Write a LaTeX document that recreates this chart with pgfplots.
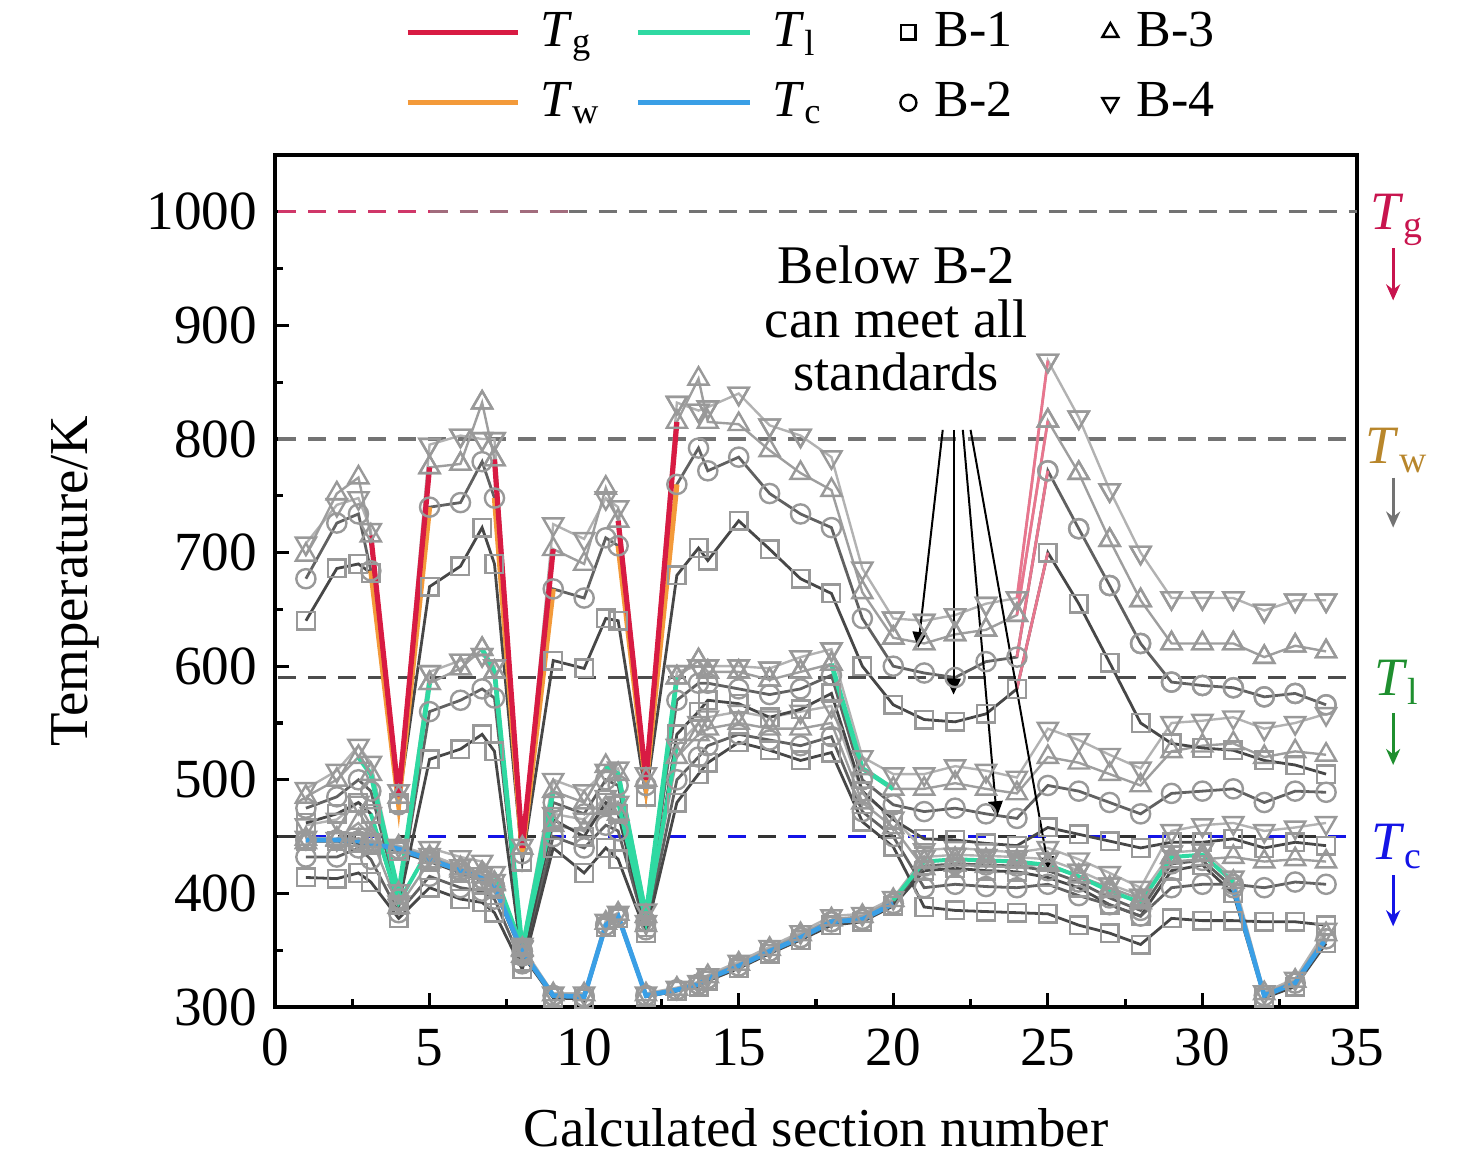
\documentclass[border=0pt]{standalone}
\usepackage{fontspec}
\setmainfont{Liberation Serif}
\usepackage{pgfplots}
\usepackage{pgfplotstable}
\pgfplotsset{compat=1.18}
\usetikzlibrary{arrows.meta}
\definecolor{cTg}{HTML}{D81B43}
\definecolor{cTw}{HTML}{F39A3A}
\definecolor{cTl}{HTML}{2FD9A2}
\definecolor{cTc}{HTML}{3A9FE6}
\definecolor{lTg}{HTML}{C8144E}
\definecolor{lTw}{HTML}{B8862B}
\definecolor{lTl}{HTML}{1F8F2F}
\definecolor{lTc}{HTML}{1414E6}

\pgfplotstableread{
x b1 b2 b3 b4
1 640 677 698 708
2 686 726 752 742
2.7 690 734 766 748
3.1 682 684 715 720
4 480 478 485 490
5 670 740 775 795
6 688 744 778 803
6.7 722 780 832 800
7.1 690 748 782 800
8 428 435 440 442
9 605 668 703 725
10 598 660 690 712
10.7 642 713 757 748
11.1 640 706 728 740
12 485 495 500 505
13 680 760 815 832
13.7 704 792 853 825
14 693 772 815 828
15 728 784 813 840
16 703 752 790 812
17 677 734 770 803
18 664 722 755 784
19 600 642 665 686
20 566 600 625 642
21 553 594 620 640
22 551 590 628 645
23 558 604 632 655
24 580 608 645 660
25 700 772 816 869
26 655 721 770 819
27 603 671 711 755
28 550 620 658 700
29 532 586 620 660
30 528 583 620 660
31 526 581 620 660
32 517 573 608 649
33 513 576 618 658
34 505 566 613 658
}\Gone

\pgfplotstableread{
x b1 b2 b3 b4
1 462 475 485 492
2 470 485 500 508
2.7 480 500 520 530
3.1 470 490 505 515
4 390 395 400 402
5 518 560 585 595
6 527 570 598 605
6.7 540 580 615 610
7.1 525 572 595 600
8 340 345 350 355
9 465 480 490 500
10 450 470 480 490
10.7 480 500 512 508
11.1 470 495 505 510
12 370 375 380 385
13 540 570 590 595
13.7 560 585 605 600
14 570 585 595 600
15 567 580 595 600
16 555 575 588 598
17 562 580 595 608
18 576 592 602 615
19 490 500 510 520
20 465 478 492 505
21 448 472 492 505
22 447 475 497 512
23 444 470 492 508
24 442 466 488 502
25 458 495 520 545
26 452 490 515 535
27 446 480 505 522
28 440 470 495 510
29 445 488 525 550
30 445 490 530 552
31 448 492 532 555
32 440 480 520 545
33 445 490 525 550
34 442 489 522 558
}\Gtwo

\pgfplotstableread{
x b1 b2 b3 b4
1 414 432 445 460
2 413 432 448 465
2.7 418 440 462 480
3.1 410 430 450 470
4 378 383 388 392
5 405 415 428 440
6 395 405 420 432
6.7 392 402 418 428
7.1 383 395 408 418
8 333 338 345 352
9 440 450 460 470
10 418 440 455 465
10.7 440 460 475 485
11.1 430 455 470 480
12 365 368 372 375
13 480 500 520 530
13.7 505 520 540 550
14 515 530 545 555
15 533 540 550 560
16 526 535 545 555
17 517 530 545 560
18 524 538 550 565
19 463 472 480 488
20 441 450 458 466
21 388 405 422 438
22 385 408 425 440
23 384 406 424 438
24 383 405 423 436
25 382 408 426 440
26 372 398 415 430
27 365 390 405 418
28 355 380 395 405
29 378 405 428 455
30 376 408 430 460
31 376 408 432 462
32 375 405 428 455
33 375 410 430 458
34 372 408 428 462
}\Gthree

\pgfplotstableread{
x b1 b2 b3 b4
1 446 447 448 449
2 446 447 447 448
2.7 444 446 447 448
3.1 443 444 446 447
4 437 439 441 442
5 428 430 432 434
6 418 420 422 424
6.7 411 413 415 417
7.1 404 406 409 411
8 346 349 351 353
9 308 310 311 312
10 307 309 311 312
10.7 370 372 374 376
11.1 378 380 382 383
12 309 310 311 312
13 314 315 316 317
13.7 318 320 321 322
14 323 325 327 328
15 334 336 338 340
16 347 349 351 353
17 359 361 364 366
18 372 375 377 380
19 375 377 380 382
20 389 391 394 396
21 420 424 428 432
22 422 426 430 434
23 420 425 429 433
24 419 424 428 432
25 414 420 425 430
26 405 410 415 420
27 390 396 402 408
28 380 385 392 398
29 420 426 432 436
30 425 429 434 438
31 400 405 410 414
32 308 310 312 313
33 318 321 323 325
34 356 360 364 368
}\Tc

\pgfplotsset{
 s1/.style={forget plot, line width=0.7pt, color=black!72, mark=square, mark size=2.2pt, mark options={solid, draw=black!40, fill=white, line width=0.6pt}},
 s2/.style={forget plot, line width=0.7pt, color=black!62, mark=o, mark size=2.4pt, mark options={solid, draw=black!40, fill=white, line width=0.6pt}},
 s3/.style={forget plot, line width=0.6pt, color=black!38, mark=triangle, mark size=2.9pt, mark options={solid, draw=black!40, fill=white, line width=0.6pt}},
 s4/.style={forget plot, line width=0.6pt, color=black!30, mark=triangle, mark size=2.9pt, mark options={solid, rotate=180, draw=black!40, fill=white, line width=0.6pt}},
 hl/.style={only marks, every mark/.append style={fill=#1}},
}

\begin{document}
\begin{tikzpicture}
\begin{axis}[
  scale only axis, width=270.5pt, height=213pt,
  xmin=0, xmax=35, ymin=300, ymax=1050,
  xtick={0,5,...,35}, ytick={300,400,...,1000},
  minor x tick num=1, minor y tick num=1,
  tick align=inside, xtick pos=bottom, ytick pos=left,
  major tick length=3.5pt, minor tick length=2pt,
  every tick/.style={black, line width=0.8pt},
  axis line style={line width=0.9pt},
  /pgf/number format/assume math mode=true,
  /pgf/number format/1000 sep={},
  tick label style={font=\fontsize{13.8}{15}\selectfont},
  xticklabel style={yshift=-2pt},
  yticklabel style={xshift=-1pt},
  xlabel={Calculated section number},
  ylabel={Temperature/K},
  label style={font=\fontsize{13.7}{16}\selectfont},
  xlabel style={at={(axis description cs:0.5,-0.142)}, anchor=center},
  ylabel style={at={(axis description cs:-0.185,0.5)}, anchor=center},
  clip=false,
  unbounded coords=jump,
  legend columns=4,
  legend style={at={(axis description cs:0,1)}, anchor=south west, xshift=32.5pt, yshift=8pt,
    draw=none, fill=none, inner sep=0pt, outer sep=0pt, row sep=7.5pt, column sep=0pt,
    nodes={inner sep=0pt, outer sep=0pt}, font=\fontsize{13}{15}\selectfont},
]
\coordinate (SW) at (rel axis cs:0,0);
\coordinate (NE) at (rel axis cs:1,1);

% legend
\addlegendimage{legend image code/.code={\draw[cTg, line width=1.3pt] (0pt,0pt) -- (27.5pt,0pt);}}
\addlegendentry{\makebox[28.75pt][l]{\hspace{5pt}\textit{T}\textsubscript{g}}}
\addlegendimage{legend image code/.code={\draw[cTl, line width=1.3pt] (0pt,0pt) -- (28pt,0pt);}}
\addlegendentry{\makebox[37pt][l]{\hspace{5pt}\textit{T}\textsubscript{l}}}
\addlegendimage{legend image code/.code={\draw[black, line width=0.6pt, mark=square, mark size=1.8pt] plot coordinates {(0pt,0pt)};}}
\addlegendentry{\makebox[46.5pt][l]{\hspace{4.5pt}B-1}}
\addlegendimage{legend image code/.code={\draw[black, line width=0.6pt, mark=triangle, mark size=2.3pt] plot coordinates {(0pt,0pt)};}}
\addlegendentry{\makebox[30pt][l]{\hspace{4.5pt}B-3}}
\addlegendimage{legend image code/.code={\draw[cTw, line width=1.3pt] (0pt,0pt) -- (27.5pt,0pt);}}
\addlegendentry{\makebox[28.75pt][l]{\hspace{5pt}\textit{T}\textsubscript{w}}}
\addlegendimage{legend image code/.code={\draw[cTc, line width=1.3pt] (0pt,0pt) -- (28pt,0pt);}}
\addlegendentry{\makebox[37pt][l]{\hspace{5pt}\textit{T}\textsubscript{c}}}
\addlegendimage{legend image code/.code={\draw[black, line width=0.6pt, mark=o, mark size=2pt] plot coordinates {(0pt,0pt)};}}
\addlegendentry{\makebox[46.5pt][l]{\hspace{4.5pt}B-2}}
\addlegendimage{legend image code/.code={\draw[black, line width=0.6pt, mark=triangle, mark size=2.3pt, mark options={rotate=180}] plot coordinates {(0pt,0pt)};}}
\addlegendentry{\makebox[30pt][l]{\hspace{4.5pt}B-4}}

% limit lines
\draw[dash pattern=on 4.5pt off 3pt, line width=0.8pt, lTg!85] (axis cs:0.1,1000) -- (axis cs:5,1000);
\draw[dash pattern=on 4.5pt off 3pt, dash phase=0pt, line width=0.8pt, lTg!50!black!60] (axis cs:5,1000) -- (axis cs:9.5,1000);
\draw[dash pattern=on 4.5pt off 3pt, line width=0.8pt, black!55] (axis cs:9.5,1000) -- (axis cs:35,1000);
\draw[dash pattern=on 4.5pt off 3pt, line width=0.8pt, black!55] (axis cs:0.1,800) -- (axis cs:35,800);
\draw[dash pattern=on 4.5pt off 3pt, line width=0.8pt, black!70] (axis cs:0.1,590) -- (axis cs:35,590);
\draw[dash pattern=on 4.5pt off 10.5pt, line width=0.8pt, black!80] (axis cs:0.1,450) -- (axis cs:35,450);
\draw[dash pattern=on 4.5pt off 10.5pt, dash phase=7.5pt, line width=0.8pt, lTc] (axis cs:0.1,450) -- (axis cs:35,450);

% gray case lines
\addplot[s4] table[x=x,y=b4]{\Tc};
\addplot[s3] table[x=x,y=b3]{\Tc};
\addplot[s2] table[x=x,y=b2]{\Tc};
\addplot[s1] table[x=x,y=b1]{\Tc};
\addplot[s4] table[x=x,y=b4]{\Gthree};
\addplot[s3] table[x=x,y=b3]{\Gthree};
\addplot[s2] table[x=x,y=b2]{\Gthree};
\addplot[s1] table[x=x,y=b1]{\Gthree};
\addplot[s4] table[x=x,y=b4]{\Gtwo};
\addplot[s3] table[x=x,y=b3]{\Gtwo};
\addplot[s2] table[x=x,y=b2]{\Gtwo};
\addplot[s1] table[x=x,y=b1]{\Gtwo};
\addplot[s4] table[x=x,y=b4]{\Gone};
\addplot[s3] table[x=x,y=b3]{\Gone};
\addplot[s2] table[x=x,y=b2]{\Gone};
\addplot[s1] table[x=x,y=b1]{\Gone};

% coloured lines
\addplot[forget plot, cTw, line width=1.3pt] coordinates {(3.1,684)(4,478)(5,740) (6,nan) (7.1,748)(8,435)(9,668) (10,nan) (11.1,706)(12,495)(13,760)};
\addplot[forget plot, cTg, line width=1.3pt] coordinates {(3.1,715)(4,485)(5,775) (6,nan) (7.1,782)(8,440)(9,703) (10,nan) (11.1,728)(12,500)(13,815)};
\addplot[forget plot, cTg!60, line width=0.7pt] coordinates {(24,645)(25,816) (24.5,nan) (24,660)(25,869) (24.6,nan) (24,608)(25,772) (24.7,nan) (24,580)(25,700)};
\addplot[forget plot, cTl, line width=1.2pt] coordinates {(2.7,520)(3.1,505)(4,400)(5,585) (6,nan) (6.7,615)(7.1,595)(8,350)(9,490) (10,nan) (10.7,512)(11.1,505)(12,380)(13,590) (15,nan) (18,602)(19,510)(20,492)};
\addplot[forget plot, cTl, line width=1.0pt] coordinates {(3.1,470)(4,392)(5,440) (6,nan) (7.1,418)(8,352)(9,470) (10,nan) (11.1,480)(12,375)(13,530) (15,nan) (20,394)(21,428)(22,430)(23,429)(24,428)(25,425)(26,415)(27,402)(28,392)(29,432)(30,434)(31,410)};
\addplot[forget plot, cTc, line width=1.2pt, restrict x to domain=0:20.5] table[x=x,y=b2]{\Tc};
\addplot[forget plot, cTc, line width=1.2pt, restrict x to domain=30.5:35] table[x=x,y=b2]{\Tc};

% highlighted marks
\addplot[s1, hl=cTc!35, restrict x to domain=0:20.5] table[x=x,y=b1]{\Tc};
\addplot[s2, hl=cTc!35, restrict x to domain=0:20.5] table[x=x,y=b2]{\Tc};
\addplot[s3, hl=cTl!30, restrict x to domain=20.5:30.5] table[x=x,y=b3]{\Tc};
\addplot[s4, hl=cTl!30, restrict x to domain=20.5:30.5] table[x=x,y=b4]{\Tc};
\addplot[s3, hl=cTl!30, restrict x to domain=4.5:7.5] table[x=x,y=b3]{\Gtwo};
\addplot[s4, hl=cTl!30, restrict x to domain=4.5:7.5] table[x=x,y=b4]{\Gtwo};
\addplot[s3, hl=cTl!30, restrict x to domain=12.5:18.5] table[x=x,y=b3]{\Gtwo};
\addplot[s4, hl=cTl!30, restrict x to domain=12.5:18.5] table[x=x,y=b4]{\Gtwo};
\addplot[s3, hl=cTw!40, restrict x to domain=4.5:7.5] table[x=x,y=b3]{\Gone};
\addplot[s4, hl=cTw!40, restrict x to domain=4.5:7.5] table[x=x,y=b4]{\Gone};
\addplot[s4, hl=cTw!40, restrict x to domain=12.5:17.5] table[x=x,y=b4]{\Gone};
\addplot[s3, hl=cTg!25, restrict x to domain=19.5:24.5] table[x=x,y=b3]{\Gone};
\addplot[s4, hl=cTg!25, restrict x to domain=19.5:24.5] table[x=x,y=b4]{\Gone};
\addplot[s1, hl=cTg!30, restrict x to domain=24.5:35] table[x=x,y=b1]{\Gone};
\addplot[s2, hl=cTg!30, restrict x to domain=24.5:35] table[x=x,y=b2]{\Gone};
\addplot[s3, hl=cTg!30, restrict x to domain=24.5:35] table[x=x,y=b3]{\Gone};
\addplot[s4, hl=cTg!30, restrict x to domain=24.5:35] table[x=x,y=b4]{\Gone};

% right-side limit labels
\node[text=lTg, font=\fontsize{13.5}{15}\selectfont] at (axis cs:36.3,993) {\textit{T}\textsubscript{g}};
\draw[-{Stealth[length=4pt,width=3.5pt]}, lTg, line width=0.8pt] (axis cs:36.17,968) -- (axis cs:36.17,922);
\node[text=lTw, font=\fontsize{13.5}{15}\selectfont] at (axis cs:36.3,790) {\textit{T}\textsubscript{w}};
\draw[-{Stealth[length=4pt,width=3.5pt]}, black!55, line width=0.8pt] (axis cs:36.17,766) -- (axis cs:36.17,722);
\node[text=lTl, font=\fontsize{13.5}{15}\selectfont] at (axis cs:36.3,586) {\textit{T}\textsubscript{l}};
\draw[-{Stealth[length=4pt,width=3.5pt]}, lTl, line width=0.8pt] (axis cs:36.17,559) -- (axis cs:36.17,513);
\node[text=lTc, font=\fontsize{13.5}{15}\selectfont] at (axis cs:36.3,441) {\textit{T}\textsubscript{c}};
\draw[-{Stealth[length=4pt,width=3.5pt]}, lTc, line width=0.8pt] (axis cs:36.17,416) -- (axis cs:36.17,371);

% annotation
\node[align=center, font=\fontsize{13.6}{13.4}\selectfont] at (axis cs:20.1,906) {Below B-2\\can meet all\\standards};
\draw[-{Triangle[length=4pt,width=3.6pt]}, line width=0.5pt] (axis cs:21.6,808) -- (axis cs:20.8,616);
\draw[-{Triangle[length=4pt,width=3.6pt]}, line width=0.5pt] (axis cs:21.95,808) -- (axis cs:21.95,575);
\draw[-{Triangle[length=4pt,width=3.6pt]}, line width=0.5pt] (axis cs:22.25,808) -- (axis cs:23.35,467);
\draw[-{Triangle[length=4pt,width=3.6pt]}, line width=0.5pt] (axis cs:22.5,808) -- (axis cs:25.05,418);
\end{axis}
\pgfresetboundingbox
\path[use as bounding box] ([xshift=-68.75pt, yshift=-38.5pt]SW) rectangle ([xshift=29.75pt, yshift=38.75pt]NE);
\end{tikzpicture}
\end{document}
